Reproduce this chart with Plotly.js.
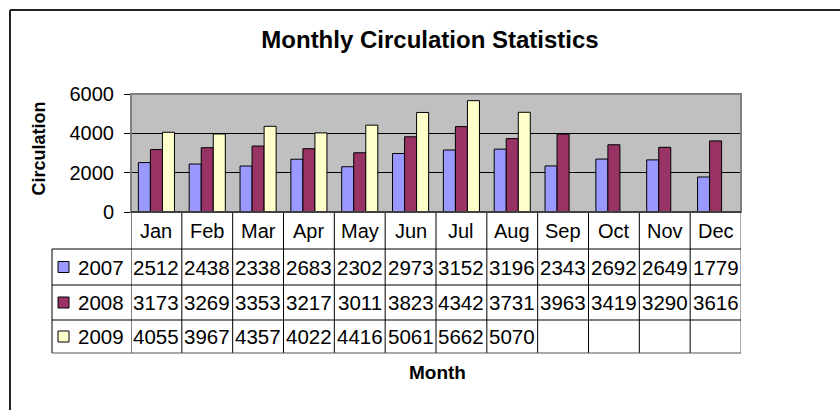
<!DOCTYPE html>
<html>
<head>
<meta charset="utf-8">
<script src="https://cdn.plot.ly/plotly-3.0.1.min.js"></script>
<style>html,body{margin:0;padding:0;background:#fff;}#chart{width:840px;height:410px;}</style>
</head>
<body>
<div id="chart"></div>
<script>
const months = ["Jan","Feb","Mar","Apr","May","Jun","Jul","Aug","Sep","Oct","Nov","Dec"];
const years = ["2007","2008","2009"];
const v2007 = [2512,2438,2338,2683,2302,2973,3152,3196,2343,2692,2649,1779];
const v2008 = [3173,3269,3353,3217,3011,3823,4342,3731,3963,3419,3290,3616];
const v2009 = [4055,3967,4357,4022,4416,5061,5662,5070,null,null,null,null];
const colors = ["#9999FF","#993366","#FFFFCC"];
const series = [v2007, v2008, v2009];

const W = 840, H = 410, L = 131, R = 99, T = 94, B = 198;
const pw = W - L - R, ph = H - T - B;
const px = x => (x - L) / pw;          // pixel x -> paper
const py = y => (H - B - y) / ph;      // pixel y -> paper
const FONT = "Liberation Sans, Arial, sans-serif";

const traces = series.map((vals, i) => ({
  type: "bar", name: years[i], x: months.map((m, k) => k), y: vals,
  marker: {color: colors[i], line: {color: "#000", width: 1}},
  hoverinfo: "skip"
}));

const shapes = [];
const annotations = [];
const rowEdges = [212, 249, 285, 320, 353];
const lineColor = "#000";
for (let k = 0; k <= months.length; k++) {
  shapes.push({type: "line", xref: "x", yref: "paper", x0: k - 0.5, x1: k - 0.5,
    y0: py(212), y1: py(353), line: {color: k === months.length ? "#555" : lineColor, width: 1}});
}
shapes.push({type: "line", xref: "paper", yref: "paper", x0: px(52), x1: px(52),
  y0: py(249), y1: py(353), line: {color: lineColor, width: 1}});
for (let r = 1; r < rowEdges.length; r++) {
  shapes.push({type: "line", xref: "paper", yref: "paper", x0: px(52), x1: 1,
    y0: py(rowEdges[r]), y1: py(rowEdges[r]), line: {color: r === rowEdges.length - 1 ? "#555" : lineColor, width: 1}});
}
shapes.push({type: "rect", xref: "paper", yref: "paper", x0: 0, x1: 1, y0: 0, y1: 1,
  line: {color: "#808080", width: 2}, layer: "above"});
shapes.push({type: "line", xref: "paper", yref: "paper", x0: 0, x1: 1, y0: 0, y1: 0,
  line: {color: "#000", width: 1}, layer: "above"});
shapes.push({type: "line", xref: "paper", yref: "paper", x0: px(10), x1: px(10), y0: py(10), y1: py(412),
  line: {color: "#222", width: 2}});
shapes.push({type: "line", xref: "paper", yref: "paper", x0: px(10), x1: px(842), y0: py(10), y1: py(10),
  line: {color: "#222", width: 2}});

months.forEach((m, k) => {
  annotations.push({xref: "x", yref: "paper", x: k, y: py(230.5), text: m, showarrow: false,
    xanchor: "center", yanchor: "middle", font: {family: FONT, size: 20, color: "#000"}});
});
const rowCenters = [267, 302.5, 336.5];
series.forEach((vals, i) => {
  vals.forEach((v, k) => {
    if (v === null) return;
    annotations.push({xref: "x", yref: "paper", x: k, y: py(rowCenters[i]), text: String(v), showarrow: false,
      xanchor: "center", yanchor: "middle", font: {family: FONT, size: 20.5, color: "#000"}});
  });
  shapes.push({type: "rect", xref: "paper", yref: "paper", x0: px(58), x1: px(69),
    y0: py(rowCenters[i] + 5.5), y1: py(rowCenters[i] - 5.5),
    fillcolor: colors[i], line: {color: "#000", width: 1}});
  annotations.push({xref: "paper", yref: "paper", x: px(76), y: py(rowCenters[i]), text: years[i], showarrow: false,
    xanchor: "left", yanchor: "middle", font: {family: FONT, size: 20.5, color: "#000"}});
});
annotations.push({xref: "paper", yref: "paper", x: px(38), y: py(148.5), text: "<b>Circulation</b>", showarrow: false,
  textangle: -90, xanchor: "center", yanchor: "middle", font: {family: FONT, size: 18, color: "#000"}});
annotations.push({xref: "paper", yref: "paper", x: px(437), y: py(372), text: "<b>Month</b>", showarrow: false,
  xanchor: "center", yanchor: "middle", font: {family: FONT, size: 19, color: "#000"}});

const layout = {
  width: W, height: H,
  margin: {l: L, r: R, t: T, b: B, pad: 0},
  paper_bgcolor: "#fff", plot_bgcolor: "#C0C0C0",
  title: {text: "<b>Monthly Circulation Statistics</b>", x: 430 / W, xref: "container", xanchor: "center",
    y: 1 - 40 / H, yref: "container", yanchor: "middle", font: {family: FONT, size: 24, color: "#000"}},
  showlegend: false,
  barmode: "group", bargap: 0.29, bargroupgap: 0,
  xaxis: {range: [-0.5, 11.5], showticklabels: false, ticks: "", showgrid: false, zeroline: false,
    showline: false, fixedrange: true},
  yaxis: {range: [0, 6000], dtick: 2000, tick0: 0, ticks: "outside", ticklen: 6, tickcolor: "#000", tickwidth: 1,
    showline: true, linecolor: "#000", linewidth: 1, gridcolor: "#000", gridwidth: 1, zeroline: false,
    ticklabelstandoff: 6,
    tickfont: {family: FONT, size: 20, color: "#000"}, fixedrange: true},
  shapes: shapes, annotations: annotations
};

Plotly.newPlot("chart", traces, layout, {displayModeBar: false, staticPlot: true});
</script>
</body>
</html>
